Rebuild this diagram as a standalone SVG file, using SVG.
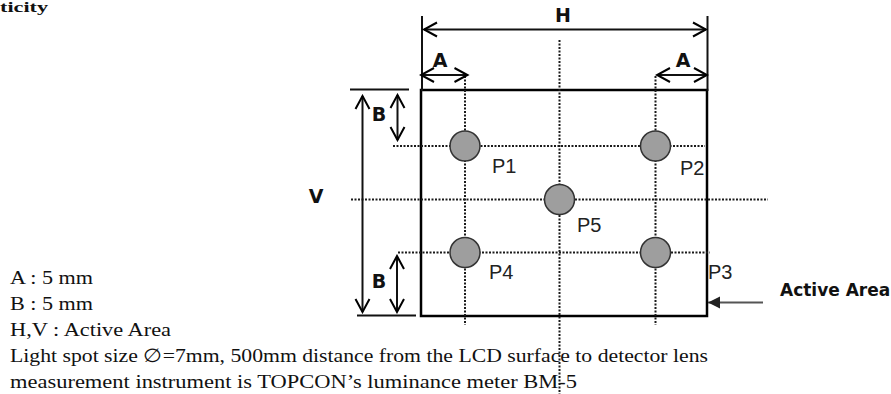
<svg xmlns="http://www.w3.org/2000/svg" width="891" height="394" viewBox="0 0 891 394">
  <defs>
    <marker id="open" viewBox="-16 -10 18 20" refX="0" refY="0" markerWidth="18" markerHeight="20" markerUnits="userSpaceOnUse" orient="auto-start-reverse">
      <path d="M-13,-7 L0,0 L-13,7" fill="none" stroke="#000" stroke-width="2"/>
    </marker>
    <marker id="solid" viewBox="-14 -8 16 16" refX="0" refY="0" markerWidth="16" markerHeight="16" markerUnits="userSpaceOnUse" orient="auto">
      <path d="M-12,-6 L0,0 L-12,6 Z" fill="#222"/>
    </marker>
    <style>
      .dim { stroke: #111; stroke-width: 2; fill: none; }
      .arr { marker-start: url(#open); marker-end: url(#open); }
      .dot { stroke: #1a1a1a; stroke-width: 2; stroke-dasharray: 2 1.5; fill: none; }
      .lbl { font-family: "DejaVu Sans", sans-serif; font-weight: bold; font-size: 19px; fill: #111; text-anchor: middle; }
      .pt { fill: #9e9e9e; stroke: #333; stroke-width: 1.5; }
      .ptl { font-family: "Liberation Sans", Arial, sans-serif; font-size: 20px; fill: #222; }
      .note { font-family: "Liberation Serif", "Times New Roman", serif; font-size: 19px; fill: #111; }
    </style>
  </defs>
  <rect x="0" y="0" width="891" height="394" fill="#fff"/>

  <g id="notes">
    <text x="0" y="12" font-family="Liberation Serif, serif" font-weight="bold" font-size="15" textLength="48" lengthAdjust="spacingAndGlyphs" fill="#111">ticity</text>
    <text class="note" x="10" y="284" textLength="83" lengthAdjust="spacingAndGlyphs">A : 5 mm</text>
    <text class="note" x="10" y="310" textLength="83" lengthAdjust="spacingAndGlyphs">B : 5 mm</text>
    <text class="note" x="10" y="336" textLength="161" lengthAdjust="spacingAndGlyphs">H,V : Active Area</text>
    <text class="note" x="10" y="362" textLength="698" lengthAdjust="spacingAndGlyphs">Light spot size ∅=7mm, 500mm distance from the LCD surface to detector lens</text>
    <text class="note" x="10" y="388" textLength="567" lengthAdjust="spacingAndGlyphs">measurement instrument is TOPCON’s luminance meter BM-5</text>
  </g>

  <g id="active-area">
    <rect x="421" y="90" width="286" height="226" fill="none" stroke="#000" stroke-width="2.5"/>
    <text x="780" y="296" font-family="DejaVu Sans, sans-serif" font-weight="bold" font-size="17" fill="#111">Active Area</text>
  </g>

  <g id="connectors">
    <line class="dot" x1="465" y1="76" x2="465" y2="325"/>
    <line class="dot" x1="655.5" y1="76" x2="655.5" y2="325"/>
    <line class="dot" x1="559.5" y1="40" x2="559.5" y2="394"/>
    <line class="dot" x1="393" y1="146" x2="705" y2="146"/>
    <line class="dot" x1="351" y1="199.5" x2="768" y2="199.5"/>
    <line class="dot" x1="398" y1="252.5" x2="710" y2="252.5"/>
    <line class="dim" x1="422" y1="16" x2="422" y2="91"/>
    <line class="dim" x1="707.5" y1="16" x2="707.5" y2="91"/>
    <line class="dim arr" x1="424" y1="29.5" x2="706" y2="29.5"/>
    <line class="dim arr" x1="421" y1="75" x2="467.5" y2="75"/>
    <line class="dim arr" x1="657" y1="75" x2="707" y2="75"/>
    <line class="dim" x1="350" y1="89.5" x2="409" y2="89.5"/>
    <line class="dim" x1="357" y1="315.5" x2="416" y2="315.5"/>
    <line class="dim arr" x1="362.5" y1="96" x2="362.5" y2="312"/>
    <line class="dim arr" x1="397.5" y1="95" x2="397.5" y2="140"/>
    <line class="dim arr" x1="397" y1="256" x2="397" y2="312"/>
    <line x1="763" y1="302.5" x2="708" y2="302.5" stroke="#555" stroke-width="2" marker-end="url(#solid)"/>
  </g>

  <g id="dim-labels">
    <text class="lbl" x="563" y="22">H</text>
    <text class="lbl" x="440" y="67">A</text>
    <text class="lbl" x="683" y="67">A</text>
    <text class="lbl" x="316" y="203" font-size="20">V</text>
    <text class="lbl" x="379" y="121">B</text>
    <text class="lbl" x="379" y="288">B</text>
  </g>

  <g id="P1"><circle class="pt" cx="465" cy="146" r="15"/><text class="ptl" x="492" y="173">P1</text></g>
  <g id="P2"><circle class="pt" cx="655.5" cy="146" r="15"/><text class="ptl" x="680" y="175">P2</text></g>
  <g id="P5"><circle class="pt" cx="559.5" cy="199.5" r="15"/><text class="ptl" x="577" y="232">P5</text></g>
  <g id="P4"><circle class="pt" cx="465" cy="252.5" r="15"/><text class="ptl" x="489" y="279">P4</text></g>
  <g id="P3"><circle class="pt" cx="655.5" cy="252.5" r="15"/><text class="ptl" x="708" y="279">P3</text></g>
</svg>
